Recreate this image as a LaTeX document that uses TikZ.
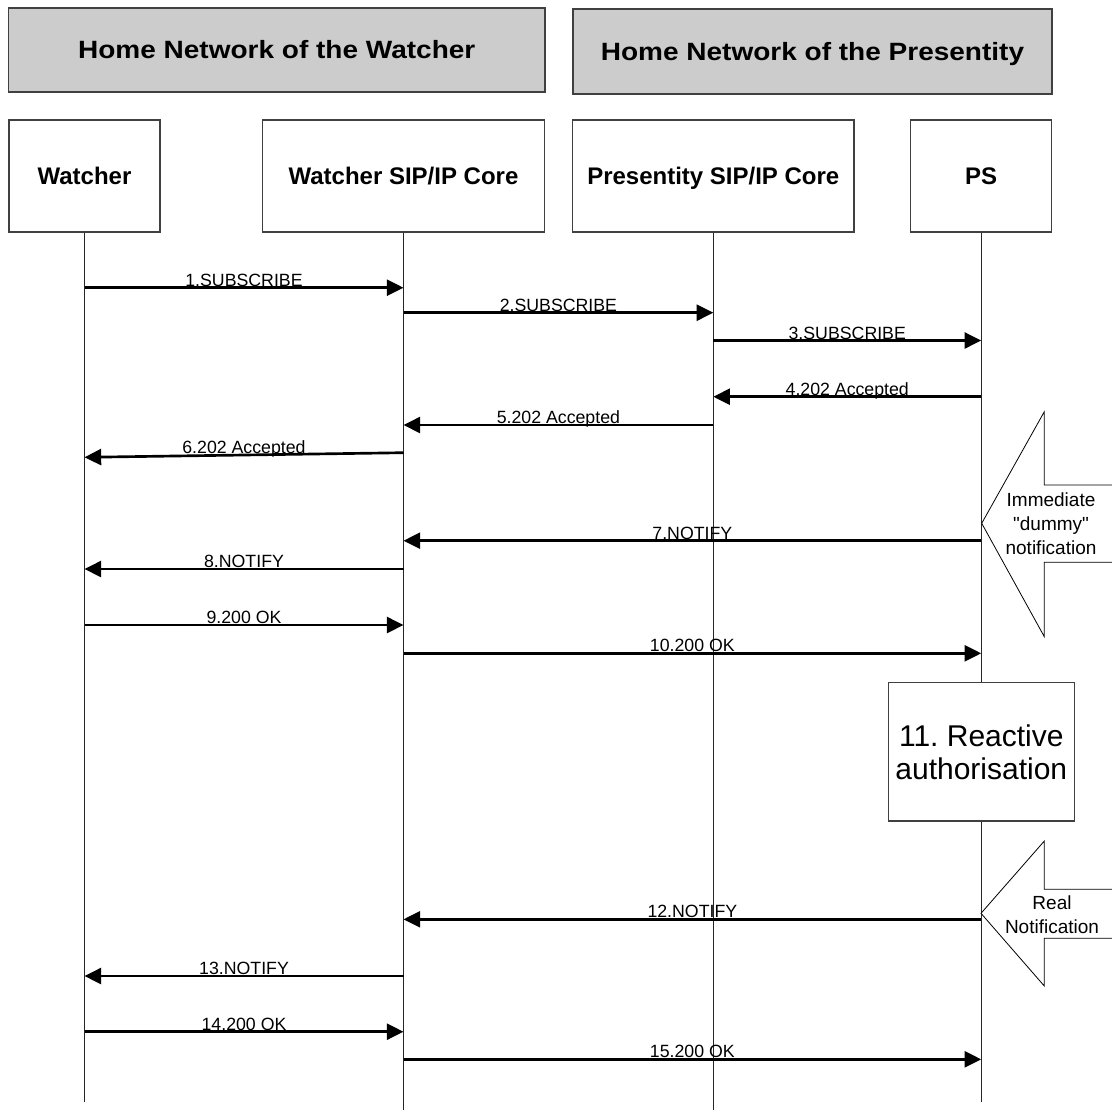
\documentclass[tikz,border=0pt]{standalone}
\usepackage{fontspec}
\setmainfont{Liberation Sans}
\newfontfamily\headfont[FakeStretch=1.12]{Liberation Sans}
\usetikzlibrary{arrows.meta}
\tikzset{
  network/.style={draw=black!75, line width=1pt, fill=black!20, text height=13.4pt, text depth=0pt, font=\headfont\bfseries\fontsize{18.75}{22}\selectfont},
  entity/.style={draw=black!75, line width=1pt, fill=white, text height=12.9pt, text depth=0pt, font=\bfseries\fontsize{18}{22}\selectfont},
  life/.style={draw=black!85, line width=0.8pt},
  msg/.style={line width=2pt, -{Triangle[length=12.5pt,width=12pt]}},
  msglabel/.style={font=\fontsize{13.3}{16}\selectfont, anchor=base, inner sep=0pt, yshift=1pt},
  callout/.style={draw=black, line width=0.6pt, fill=white},
  calltext/.style={font=\fontsize{14.25}{18}\selectfont, align=center},
}
\begin{document}
\frenchspacing
\begin{tikzpicture}[x=0.75pt,y=-0.75pt]
\useasboundingbox (0,0) rectangle (1112,1111);
\fill[white] (0,0) rectangle (1112,1111);

% networks
\node[network, minimum width=402.4pt, minimum height=63pt] (homeW) at (276.75,50) {Home Network of the Watcher};
\node[network, minimum width=359.25pt, minimum height=63.75pt] (homeP) at (812.5,51.5) {Home Network of the Presentity};

% entities
\node[entity, minimum width=113.25pt, minimum height=84pt] (watcher) at (84.5,176) {Watcher};
\node[entity, minimum width=211.7pt, minimum height=84pt] (wcore) at (403.5,176) {Watcher SIP/IP Core};
\node[entity, minimum width=211.2pt, minimum height=84pt] (pcore) at (713.3,176) {Presentity SIP/IP Core};
\node[entity, minimum width=105.8pt, minimum height=84pt] (ps) at (981.2,176) {PS};

% lifelines
\coordinate (watcherEnd) at (84.5,1102);
\coordinate (wcoreEnd) at (403.5,1110);
\coordinate (pcoreEnd) at (713.3,1110);
\coordinate (psEnd) at (981.2,1102);
\draw[life] (watcher.south) -- (watcherEnd);
\draw[life] (wcore.south) -- (wcoreEnd);
\draw[life] (pcore.south) -- (pcoreEnd);
\draw[life] (ps.south) -- (psEnd);

% messages
\draw[msg] (watcher.south |- 0,287.7) -- (wcore.south |- 0,287.7) node[msglabel, midway]{1.SUBSCRIBE};
\draw[msg] (wcore.south |- 0,312.7) -- (pcore.south |- 0,312.7) node[msglabel, midway]{2.SUBSCRIBE};
\draw[msg] (pcore.south |- 0,340.5) -- (ps.south |- 0,340.5) node[msglabel, midway]{3.SUBSCRIBE};
\draw[msg] (ps.south |- 0,396.7) -- (pcore.south |- 0,396.7) node[msglabel, midway]{4.202 Accepted};
\draw[msg] (pcore.south |- 0,425) -- (wcore.south |- 0,425) node[msglabel, midway]{5.202 Accepted};
\draw[msg] (wcore.south |- 0,452.7) -- (watcher.south |- 0,457.3) node[msglabel, midway]{6.202 Accepted};
\draw[msg] (ps.south |- 0,540.7) -- (wcore.south |- 0,540.7) node[msglabel, midway]{7.NOTIFY};
\draw[msg] (wcore.south |- 0,569) -- (watcher.south |- 0,569) node[msglabel, midway]{8.NOTIFY};
\draw[msg] (watcher.south |- 0,625) -- (wcore.south |- 0,625) node[msglabel, midway]{9.200 OK};
\draw[msg] (wcore.south |- 0,653.3) -- (ps.south |- 0,653.3) node[msglabel, midway]{10.200 OK};

% authorisation
\node[entity, font=\fontsize{22.5}{24.75}\selectfont, text height=, text depth=, align=center, minimum width=139.5pt, minimum height=103.7pt] (react) at (981.3,751.9) {11. Reactive\\authorisation};

\draw[msg] (ps.south |- 0,919.3) -- (wcore.south |- 0,919.3) node[msglabel, midway]{12.NOTIFY};
\draw[msg] (wcore.south |- 0,976) -- (watcher.south |- 0,976) node[msglabel, midway]{13.NOTIFY};
\draw[msg] (watcher.south |- 0,1031.7) -- (wcore.south |- 0,1031.7) node[msglabel, midway]{14.200 OK};
\draw[msg] (wcore.south |- 0,1059.3) -- (ps.south |- 0,1059.3) node[msglabel, midway]{15.200 OK};

% notes
\draw[callout] (1120,485) -- (1044.3,485) -- (1044.3,411.7) -- (981.7,523.3) -- (1044.3,636.7) -- (1044.3,562.3) -- (1120,562.3);
\node[calltext] (dummy) at (1051,523.3) {Immediate\\\textquotedbl dummy\textquotedbl\\notification};
\draw[callout] (1120,889.3) -- (1044.3,889.3) -- (1044.3,841) -- (981,913.3) -- (1044.3,986) -- (1044.3,938.3) -- (1120,938.3);
\node[calltext] (realnote) at (1052,914.5) {Real\\Notification};
\end{tikzpicture}
\end{document}
